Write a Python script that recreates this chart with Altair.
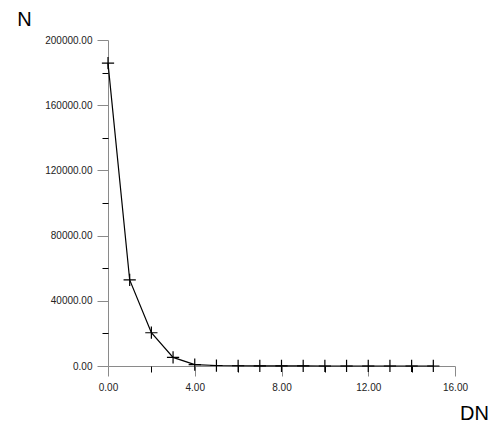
import altair as alt
import pandas as pd

dn = list(range(16))
n_vals = [185800, 52800, 20400, 5300, 900, 300, 150, 80, 40, 20, 10, 5, 3, 2, 1, 1]

x_major = [0, 4, 8, 12, 16]
x_minor = [2, 6, 10, 14]
y_major = [0, 40000, 80000, 120000, 160000, 200000]
y_minor = [20000, 60000, 100000, 140000, 180000]

df = pd.DataFrame({"DN": dn, "N": n_vals})

FONT = "Liberation Sans"
GRAY = "#8a8a8a"

xs = alt.Scale(domain=[0, 16], nice=False, zero=False)
ys = alt.Scale(domain=[0, 200000], nice=False)

base = alt.Chart(df)

line = base.mark_line(color="black", strokeWidth=1.2).encode(
    x=alt.X("DN:Q", scale=xs,
            axis=alt.Axis(values=x_major, format=".2f", tickSize=10, tickColor=GRAY,
                          domainColor=GRAY, labelFont=FONT, labelFontSize=10,
                          labelColor="#222", labelPadding=6, grid=False, labelFlush=False,
                          title="DN", titleFont=FONT, titleFontSize=20, titleFontWeight="normal",
                          titleAngle=0, titleX=366, titleY=53, titleAlign="center",
                          titleBaseline="alphabetic", titleColor="black")),
    y=alt.Y("N:Q", scale=ys,
            axis=alt.Axis(values=y_major, format=".2f", tickSize=11, tickColor=GRAY,
                          domainColor=GRAY, labelFont=FONT, labelFontSize=10,
                          labelColor="#222", labelPadding=5, grid=False, labelFlush=False,
                          title="N", titleFont=FONT, titleFontSize=20, titleFontWeight="normal",
                          titleAngle=0, titleX=-84, titleY=-21, titleAlign="center",
                          titleBaseline="middle", titleColor="black")),
)

pts = base.mark_point(shape="M-1,0L1,0M0,-1L0,1", size=150, filled=False,
                      color="black", strokeWidth=1.2, opacity=1).encode(
    x=alt.X("DN:Q", scale=xs, axis=None),
    y=alt.Y("N:Q", scale=ys, axis=None),
)

minor = base.mark_point(opacity=0).encode(
    x=alt.X("DN:Q", scale=xs,
            axis=alt.Axis(orient="bottom", values=x_minor, tickSize=6, tickColor="black",
                          domain=False, labels=False, grid=False, title=None)),
    y=alt.Y("N:Q", scale=ys,
            axis=alt.Axis(orient="left", values=y_minor, tickSize=6, tickColor="black",
                          domain=False, labels=False, grid=False, title=None)),
)

chart = alt.layer(line, pts, minor).resolve_axis(x="independent", y="independent").properties(
    width=347, height=326,
    autosize=alt.AutoSizeParams(type="none"),
    padding={"left": 100, "top": 32, "right": 38, "bottom": 56},
).configure_view(stroke=None)

chart.save("out.html", embed_options={"renderer": "svg", "actions": False})
